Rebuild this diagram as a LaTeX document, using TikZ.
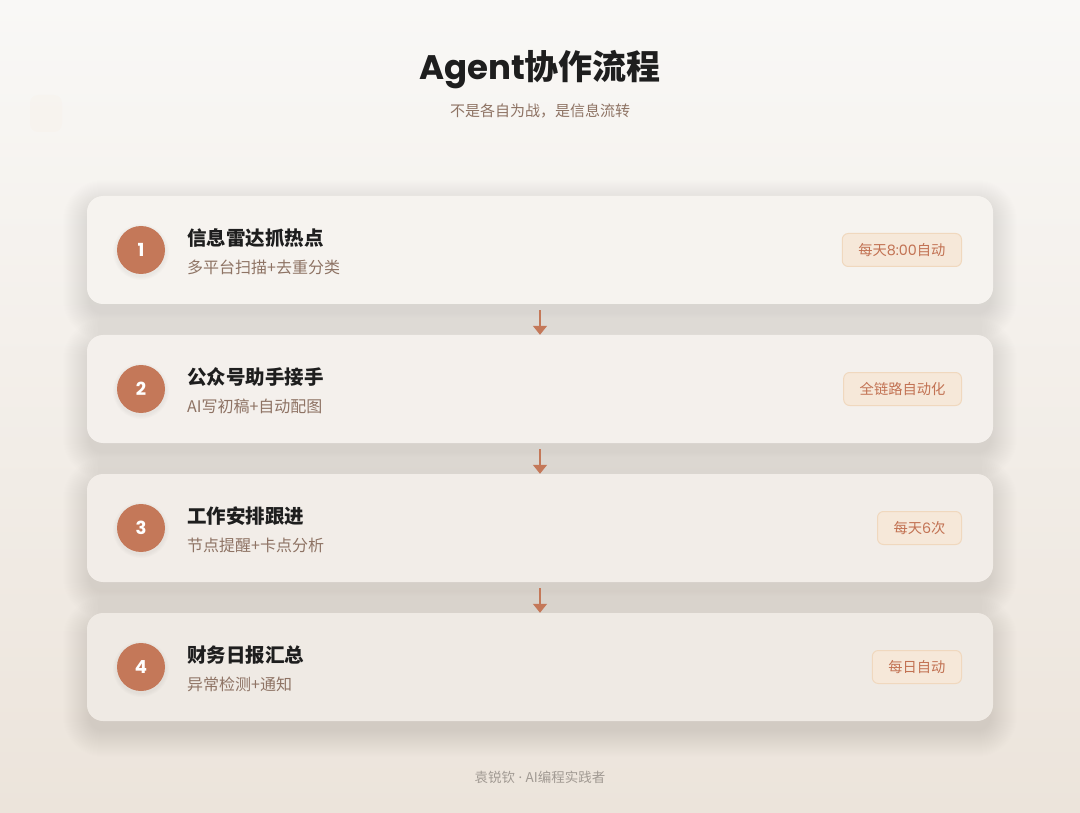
\documentclass[tikz,border=0pt]{standalone}
\usepackage{fontspec}
\setmainfont{Noto Sans CJK SC}
\newfontfamily\pop{Poppins}
\newfontfamily\latn{Noto Sans}
\usetikzlibrary{arrows.meta}
\definecolor{bgtop}{HTML}{F9F8F6}
\definecolor{bgbot}{HTML}{ECE4DB}
\definecolor{cardA}{HTML}{F6F3EF}
\definecolor{cardB}{HTML}{F4F0EC}
\definecolor{cardC}{HTML}{F2EDE8}
\definecolor{cardD}{HTML}{EFEAE4}
\definecolor{accent}{HTML}{C47859}
\definecolor{badgefill}{HTML}{F6E8D9}
\definecolor{badgeline}{HTML}{F0D8BE}
\definecolor{badgetext}{HTML}{C27253}
\definecolor{subtext}{HTML}{8E7364}
\definecolor{titletext}{HTML}{1E1E1E}
\definecolor{foot}{HTML}{A19A93}
\tikzset{
  card/.style={draw=none, rounded corners=16pt, minimum width=906pt, minimum height=108pt, inner sep=0pt},
  numdot/.style={circle, fill=accent, minimum size=48pt, inner sep=0pt, text=white,
    font=\pop\fontsize{18}{22}\selectfont\bfseries},
  cardtitle/.style={anchor=west, inner sep=0pt, text=titletext, font=\fontsize{19.5}{23}\selectfont\bfseries},
  cardsub/.style={anchor=west, inner sep=0pt, text=subtext, font=\fontsize{16}{19}\selectfont},
  badge/.style={anchor=east, draw=badgeline, line width=1pt, fill=badgefill, rounded corners=6pt, text=badgetext,
    font=\fontsize{14.3}{17}\selectfont, minimum height=33pt, inner xsep=16pt, inner ysep=0pt},
  flowarrow/.style={draw=accent, line width=1.6pt, -{Triangle[width=14pt,length=9pt]}, shorten <=6pt, shorten >=0pt}
}
\newcommand\cardshadow[1]{%
  \foreach \k [evaluate=\k as \r using 14+\k] in {0,...,26}{
    \fill[black, opacity=0.0036, rounded corners=\r pt] (89-\k, #1-54+10-\k) rectangle (991+\k, #1+54+10+\k);
  }%
}
\newcommand\dotshadow[1]{%
  \foreach \k in {1,...,4}{
    \fill[black, opacity=0.01] (141, #1+2) circle ({24+\k});
  }%
}
\begin{document}
\begin{tikzpicture}[x=1pt,y=-1pt]
\useasboundingbox (0,0) rectangle (1080,813);
\shade[top color=bgtop, bottom color=bgbot] (0,0) rectangle (1080,813);
% faint glow top-left
\fill[orange!30, opacity=0.06, rounded corners=8pt] (30,95) rectangle (62,132);

\node[inner sep=0pt, text=titletext, font=\fontsize{34}{40}\selectfont\bfseries] (title) at (540,70) {{\pop Agent}协作流程};
\node[inner sep=0pt, text=subtext, font=\fontsize{15}{18}\selectfont] (subtitle) at (540,111) {不是各自为战，是信息流转};

\cardshadow{250}
\cardshadow{389}
\cardshadow{528}
\cardshadow{667}

\node[card, fill=cardA] (c1) at (540,250) {};
\node[card, fill=cardB] (c2) at (540,389) {};
\node[card, fill=cardC] (c3) at (540,528) {};
\node[card, fill=cardD] (c4) at (540,667) {};

\draw[flowarrow] (c1.south) -- (c2.north);
\draw[flowarrow] (c2.south) -- (c3.north);
\draw[flowarrow] (c3.south) -- (c4.north);

\dotshadow{250}
\dotshadow{389}
\dotshadow{528}
\dotshadow{667}

\node[numdot] (n1) at (141,250) {1};
\node[numdot] (n2) at (141,389) {2};
\node[numdot] (n3) at (141,528) {3};
\node[numdot] (n4) at (141,667) {4};

\node[cardtitle] (t1) at (187,238) {信息雷达抓热点};
\node[cardsub] (s1) at (187,267) {多平台扫描+去重分类};
\node[cardtitle] (t2) at (187,377) {公众号助手接手};
\node[cardsub] (s2) at (187,406) {AI写初稿+自动配图};
\node[cardtitle] (t3) at (187,516) {工作安排跟进};
\node[cardsub] (s3) at (187,545) {节点提醒+卡点分析};
\node[cardtitle] (t4) at (187,655) {财务日报汇总};
\node[cardsub] (s4) at (187,684) {异常检测+通知};

\node[badge] (b1) at (962,250) {每天{\pop 8:00}自动};
\node[badge] (b2) at (962,389) {全链路自动化};
\node[badge] (b3) at (962,528) {每天{\pop 6}次};
\node[badge] (b4) at (962,667) {每日自动};

\node[inner sep=0pt, text=foot, font=\fontsize{13.5}{16}\selectfont] (footer) at (540,777) {袁锐钦{\latn\ ·\ }AI编程实践者};
\end{tikzpicture}
\end{document}
